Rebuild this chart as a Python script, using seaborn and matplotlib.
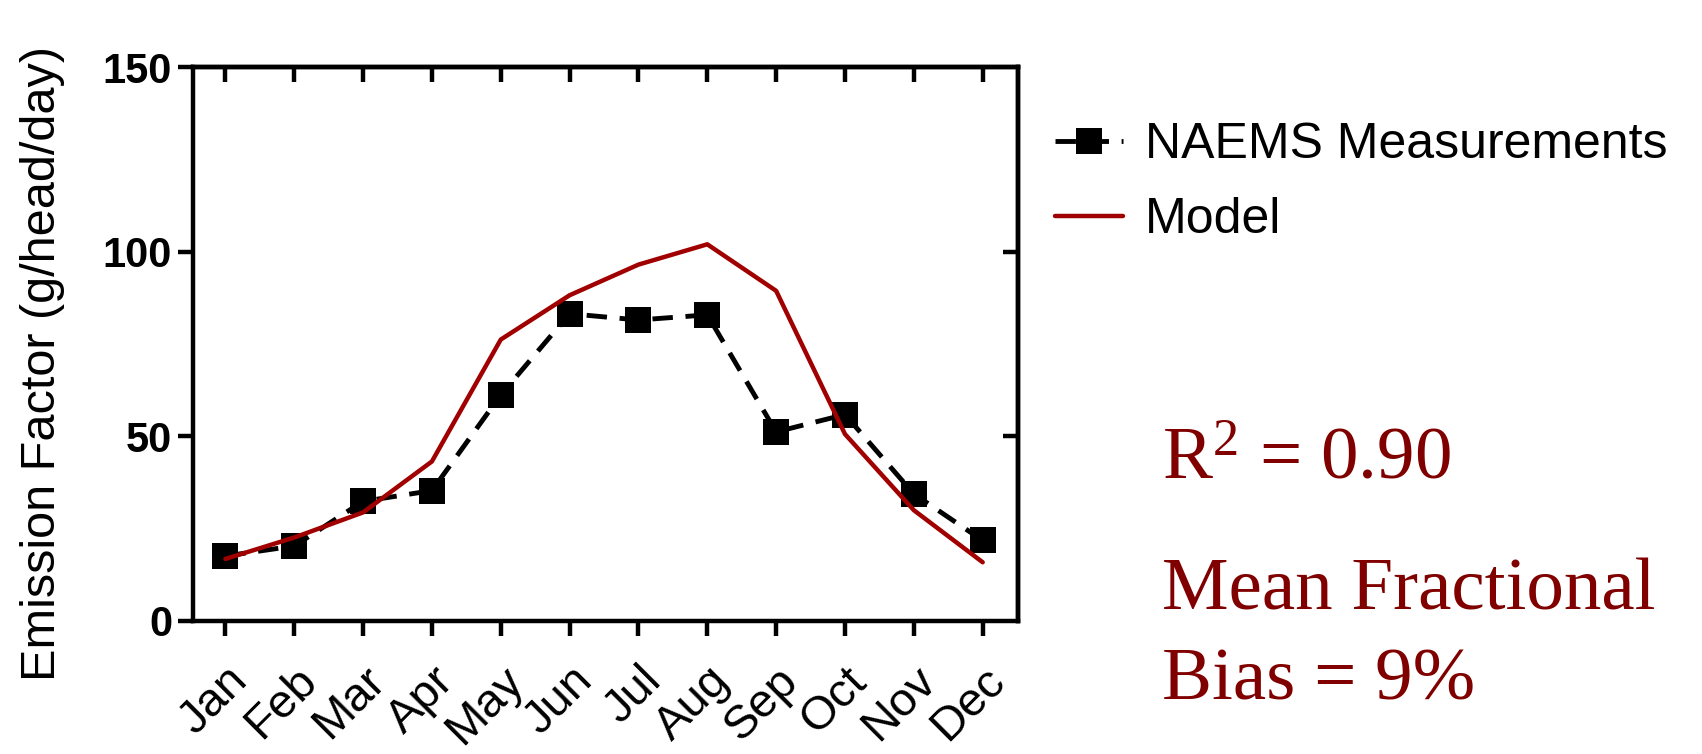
import matplotlib
matplotlib.use("Agg")
import matplotlib.pyplot as plt
import matplotlib.transforms as mtransforms
import seaborn as sns
import pandas as pd
import numpy as np

months = ["Jan", "Feb", "Mar", "Apr", "May", "Jun", "Jul", "Aug", "Sep", "Oct", "Nov", "Dec"]
naems = [17.6, 20.3, 32.4, 35.3, 61.2, 83.2, 81.5, 82.9, 51.2, 55.9, 34.4, 21.8]
model = [16.8, 22.6, 29.4, 43.2, 76.2, 88.2, 96.5, 102.0, 89.4, 50.6, 30.0, 15.9]
yticks = [0, 50, 100, 150]

sns.set_theme(style="white")
plt.rcParams["font.family"] = ["Liberation Sans", "DejaVu Sans"]
for k in ["text.color", "axes.labelcolor", "xtick.color", "ytick.color", "axes.edgecolor"]:
    plt.rcParams[k] = "black"
plt.rcParams["mathtext.fontset"] = "custom"
plt.rcParams["mathtext.rm"] = "Liberation Serif"
plt.rcParams["mathtext.it"] = "Liberation Serif:italic"
plt.rcParams["mathtext.bf"] = "Liberation Serif:bold"

df = pd.DataFrame({"idx": np.arange(len(months)), "month": months,
                   "NAEMS Measurements": naems, "Model": model})

fig = plt.figure(figsize=(17.02, 7.54), dpi=100)
ax = fig.add_axes([0.1134, 0.1764, 0.4846, 0.7347])

red = "#a00000"
sns.lineplot(data=df, x="idx", y="NAEMS Measurements", ax=ax, color="black",
             linestyle=(0, (4.2, 2.6)), linewidth=3.5, marker="s", markersize=19,
             markeredgewidth=0, label="NAEMS Measurements", legend=False)
sns.lineplot(data=df, x="idx", y="Model", ax=ax, color=red, linewidth=3.2,
             label="Model", legend=False)

ax.set_xlim(-0.47, 11.51)
ax.set_ylim(0, 150)
ax.set_xticks(np.arange(len(months)))
ax.set_xticklabels(months, rotation=45, ha="right", rotation_mode="anchor",
                   fontsize=34)
offset = mtransforms.ScaledTranslation(-11 / 100, 0, fig.dpi_scale_trans)
for lab in ax.get_xticklabels():
    lab.set_transform(lab.get_transform() + offset)
ax.set_yticks(yticks)
ax.set_yticklabels([str(v) for v in yticks], fontweight="bold", fontsize=30)
ax.set_xlabel("")
ax.set_ylabel("Emission Factor (g/head/day)", fontsize=35)
ax.yaxis.set_label_coords(-0.155, 0.465)

for s in ax.spines.values():
    s.set_linewidth(3.2)
    s.set_color("black")
    s.set_visible(True)
ax.tick_params(axis="both", direction="out", length=11, width=3.2, color="black",
               bottom=True, left=True, top=False, right=False)
ax.tick_params(axis="x", pad=16)
ax.tick_params(axis="y", pad=4)

top = ax.secondary_xaxis("top")
top.set_xticks(np.arange(len(months)))
top.tick_params(direction="in", length=11, width=3.2, labeltop=False, color="black")
top.spines["top"].set_linewidth(3.2)
right = ax.secondary_yaxis("right")
right.set_yticks([50, 100])
right.tick_params(direction="in", length=11, width=3.2, labelright=False, color="black")
right.spines["right"].set_linewidth(3.2)

handles, labels = ax.get_legend_handles_labels()
fig.legend(handles, labels, loc="upper left", bbox_to_anchor=(0.620, 0.838),
           frameon=False, fontsize=36, handlelength=1.35, handletextpad=0.45,
           labelspacing=0.58, borderaxespad=0, borderpad=0)

serif = ["Liberation Serif", "DejaVu Serif"]
tc = "#800000"
fig.text(0.683, 0.365, r"R$^{2}$ = 0.90", family=serif, color=tc, fontsize=54,
         va="baseline", ha="left")
fig.text(0.683, 0.191, "Mean Fractional", family=serif, color=tc, fontsize=54,
         va="baseline", ha="left")
fig.text(0.683, 0.072, "Bias = 9%", family=serif, color=tc, fontsize=54,
         va="baseline", ha="left")

fig.savefig("out.png", dpi=100)
